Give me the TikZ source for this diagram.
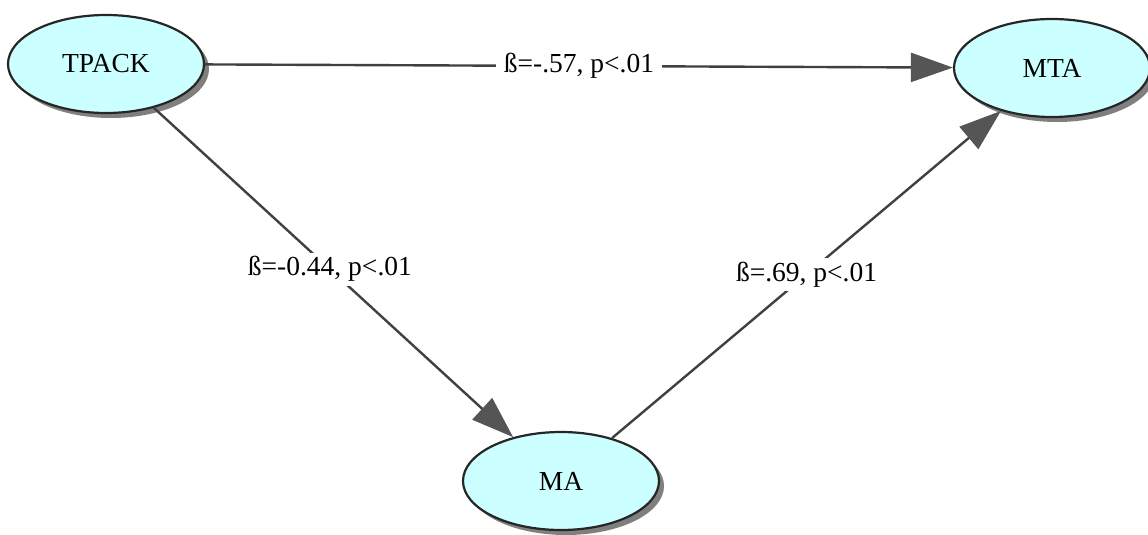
\documentclass[tikz,border=0pt]{standalone}
\usepackage{fontspec}
\setmainfont{Liberation Serif}
\usetikzlibrary{shapes.geometric,arrows.meta,shadows}
\definecolor{nodefill}{HTML}{CCFFFF}
\definecolor{edgecol}{HTML}{404040}
\definecolor{tipcol}{HTML}{555555}
\definecolor{shadowcol}{HTML}{7F7F7F}
\begin{document}
\begin{tikzpicture}[x=1pt,y=-1pt,
  every node/.style={font=\fontsize{27.5}{32}\selectfont},
  latent/.style={ellipse, draw=black!85, line width=2.2pt, fill=nodefill,
    minimum width=196pt, minimum height=98pt, inner sep=0pt,
    drop shadow={shadow xshift=5pt, shadow yshift=-5pt, fill=shadowcol, opacity=1}},
  path/.style={draw=edgecol, line width=2.4pt,
    -{Triangle[length=42pt,width=29pt,fill=tipcol,color=tipcol]}},
  coef/.style={fill=white, inner xsep=8pt, inner ysep=4pt}]
\useasboundingbox (0,0) rectangle (1148,535);
\node[latent] (T) at (106,64) {TPACK};
\node[latent] (M) at (1052,68) {MTA};
\node[latent] (A) at (561,481) {MA};
\draw[path] (T) -- node[coef] (l1) {ß=-.57, p<.01} (M);
\draw[path] (T) -- node[coef, pos=0.49] (l2) {ß=-0.44, p<.01} (A);
\draw[path] (A) -- node[coef] (l3) {ß=.69, p<.01} (M);
\end{tikzpicture}
\end{document}
